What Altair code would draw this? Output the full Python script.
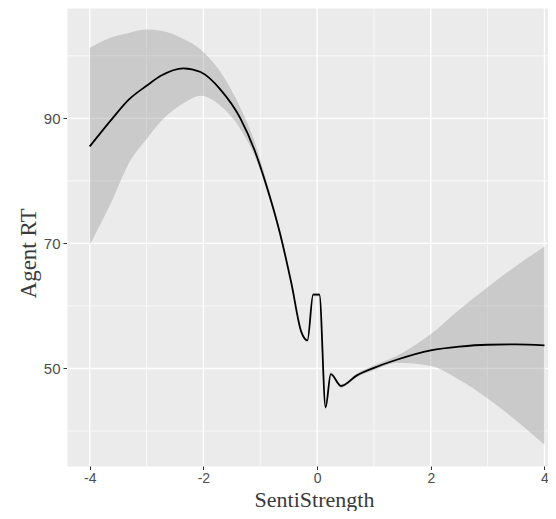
import altair as alt
import pandas as pd

# Smoothed fit (loess) of Agent RT vs SentiStrength, with its confidence band
xs = [-4.0, -3.6, -3.3, -3.0, -2.75, -2.35, -2.05, -1.7, -1.35, -1.1, -0.9, -0.65,
      -0.45, -0.28, -0.17, -0.07, 0.04, 0.15, 0.24, 0.42, 0.7, 1.0, 1.4, 2.0, 2.5,
      3.0, 3.5, 4.0]
fit = [85.5, 90.0, 93.1, 95.2, 96.8, 98.0, 97.4, 94.6, 90.0, 84.9, 79.5, 71.5,
       63.5, 55.9, 54.5, 61.8, 61.8, 43.8, 49.1, 47.2, 48.9, 50.1, 51.4, 52.9, 53.5,
       53.8, 53.85, 53.7]
upper = [101.3, 103.0, 103.7, 104.2, 104.0, 102.7, 101.0, 97.4, 91.7, 86.3, 80.3, 72.0,
         63.8, 56.2, 54.8, 62.1, 62.1, 44.1, 49.4, 47.5, 49.2, 50.5, 52.0, 55.5, 59.4,
         63.0, 66.4, 69.5]
lower = [69.8, 77.0, 83.0, 86.7, 89.5, 92.4, 93.6, 92.0, 88.3, 84.0, 78.8, 71.0,
         63.2, 55.6, 54.2, 61.5, 61.5, 43.5, 48.8, 46.9, 48.6, 49.7, 50.9, 50.4, 48.2,
         45.2, 41.7, 37.8]

x_ticks = [-4, -2, 0, 2, 4]
x_minor = [-3, -1, 1, 3]
y_ticks = [50, 70, 90]
y_minor = [40, 60, 80, 100]

df = pd.DataFrame({"x": xs, "fit": fit, "upper": upper, "lower": lower})

xscale = alt.Scale(domain=[-4.4, 4.062], nice=False, zero=False)
yscale = alt.Scale(domain=[34.41, 107.64], nice=False, zero=False)

xaxis = alt.Axis(values=x_ticks, grid=False, domain=False, labelExpr="datum.value + ''",
                 tickColor="#333333", tickSize=3.5, tickWidth=1, labelPadding=1.5,
                 labelColor="#4D4D4D", labelFont="Liberation Sans", labelFontSize=14,
                 title="SentiStrength", titleFont="Liberation Serif", titleFontSize=22,
                 titleFontWeight="normal", titleColor="#3a3a3a",
                 titleX=247, titleY=40.5, titleBaseline="alphabetic")
yaxis = alt.Axis(values=y_ticks, grid=False, domain=False, labelExpr="datum.value + ''",
                 tickColor="#333333", tickSize=4, tickWidth=1, labelPadding=3,
                 labelColor="#4D4D4D", labelFont="Liberation Sans", labelFontSize=15,
                 title="Agent RT", titleFont="Liberation Serif", titleFontSize=23,
                 titleFontWeight="normal", titleColor="#3a3a3a",
                 titleX=-32, titleY=245, titleBaseline="alphabetic")

gxM = alt.Chart(pd.DataFrame({"gx": x_ticks})).mark_rule(color="white", strokeWidth=1.4).encode(
    x=alt.X("gx:Q", scale=xscale, axis=xaxis))
gxm = alt.Chart(pd.DataFrame({"gx": x_minor})).mark_rule(color="white", strokeWidth=0.7).encode(
    x=alt.X("gx:Q", scale=xscale, axis=xaxis))
gyM = alt.Chart(pd.DataFrame({"gy": y_ticks})).mark_rule(color="white", strokeWidth=1.4).encode(
    y=alt.Y("gy:Q", scale=yscale, axis=yaxis))
gym = alt.Chart(pd.DataFrame({"gy": y_minor})).mark_rule(color="white", strokeWidth=0.7).encode(
    y=alt.Y("gy:Q", scale=yscale, axis=yaxis))

band = alt.Chart(df).mark_area(color="#999999", opacity=0.4, interpolate="monotone").encode(
    x=alt.X("x:Q", scale=xscale, axis=xaxis),
    y=alt.Y("upper:Q", scale=yscale, axis=yaxis),
    y2="lower:Q",
)
line = alt.Chart(df).mark_line(color="black", strokeWidth=1.8, interpolate="monotone").encode(
    x=alt.X("x:Q", scale=xscale, axis=xaxis),
    y=alt.Y("fit:Q", scale=yscale, axis=yaxis),
)

chart = alt.layer(gym, gyM, gxm, gxM, band, line).properties(
    width=481, height=458,
    padding={"left": 59, "top": 0, "right": 0, "bottom": 45},
    autosize=alt.AutoSizeParams(type="none"),
).configure_view(fill="#EBEBEB", stroke="transparent")

chart.save("out.html", embed_options={"renderer": "svg", "actions": False})
